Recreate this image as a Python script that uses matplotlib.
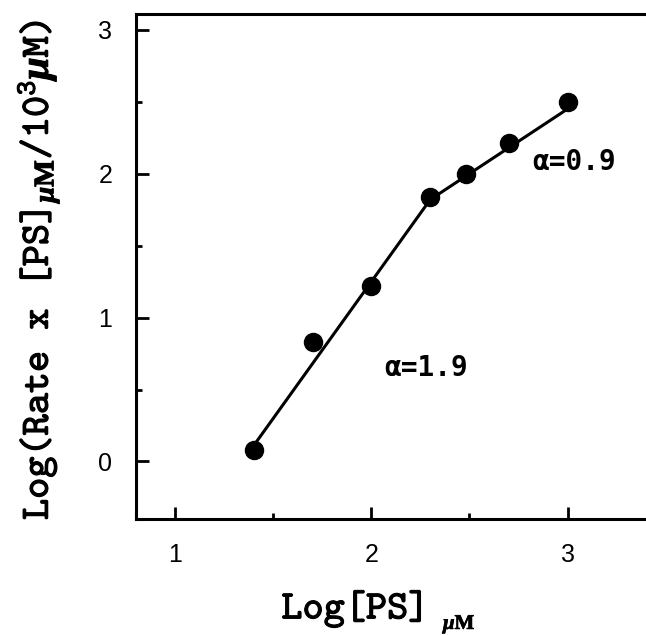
import matplotlib
matplotlib.use("Agg")
import matplotlib.pyplot as plt
import matplotlib.patheffects as pe
import numpy as np

# log[PS] (uM) and log(rate x [PS]/10^3 uM)
log_ps = [1.40, 1.70, 2.00, 2.30, 2.48, 2.70, 3.00]
log_rate = [0.08, 0.83, 1.22, 1.84, 2.00, 2.215, 2.50]

# two linear regimes: slope (alpha), intercept, index range of points
alphas = [1.9, 0.9]
intercepts = [-2.55, -0.25]
seg_idx = [(0, 3), (3, 6)]

plt.rcParams.update({
    "font.family": "Liberation Sans",
    "mathtext.fontset": "custom",
    "mathtext.rm": "cmtt10",
    "mathtext.it": "Liberation Serif:italic:bold",
    "mathtext.bf": "Liberation Serif:bold",
    "axes.linewidth": 2.2,
})

fig = plt.figure(figsize=(6.46, 6.35), dpi=100)
ax = fig.add_axes([136/646, 116/635, 510/646, 505/635])

for a, b, (i0, i1) in zip(alphas, intercepts, seg_idx):
    xs = np.array([log_ps[i0], log_ps[i1]])
    ax.plot(xs, a*xs + b, color="black", lw=2.2, zorder=2)
ax.plot(log_ps, log_rate, "o", color="black", ms=13, zorder=3)

ax.text(2.82, 2.08, f"α={alphas[1]}", fontsize=20, fontweight="bold",
        family="DejaVu Sans Mono", va="center", ha="left")
ax.text(2.065, 0.65, f"α={alphas[0]}", fontsize=20, fontweight="bold",
        family="DejaVu Sans Mono", va="center", ha="left")

ax.set_xlim(0.8, 3.4)
ax.set_ylim(-0.4, 3.11)
ax.set_xticks([1, 2, 3])
ax.set_yticks([0, 1, 2, 3])
ax.set_xticks([1.5, 2.5], minor=True)
ax.set_yticks([0.5, 1.5, 2.5], minor=True)
ax.tick_params(which="major", direction="in", length=9, width=2, labelsize=18, pad=17)
ax.tick_params(which="minor", direction="in", length=4, width=2)
ax.spines["right"].set_visible(False)

# typewriter labels, thickened a little with a stroke
thick = [pe.withStroke(linewidth=0.8, foreground="black")]
lab = dict(fontsize=29, family="cmtt10", path_effects=thick)
ax.set_xlabel("Log[PS]", **lab)
ax.set_ylabel(r"Log(Rate x [PS]$_{\mu\mathbf{M}}$/10$^{3}$$\mu$M)", **lab)
ax.xaxis.set_label_coords(0.43, -0.14)
ax.yaxis.set_label_coords(-0.145, 0.493)
fig.text(443/646, 6/635, r"$\mu\mathbf{M}$", fontsize=15, va="baseline", ha="left",
         path_effects=[pe.withStroke(linewidth=0.5, foreground="black")])

fig.savefig("out.png", dpi=100)
